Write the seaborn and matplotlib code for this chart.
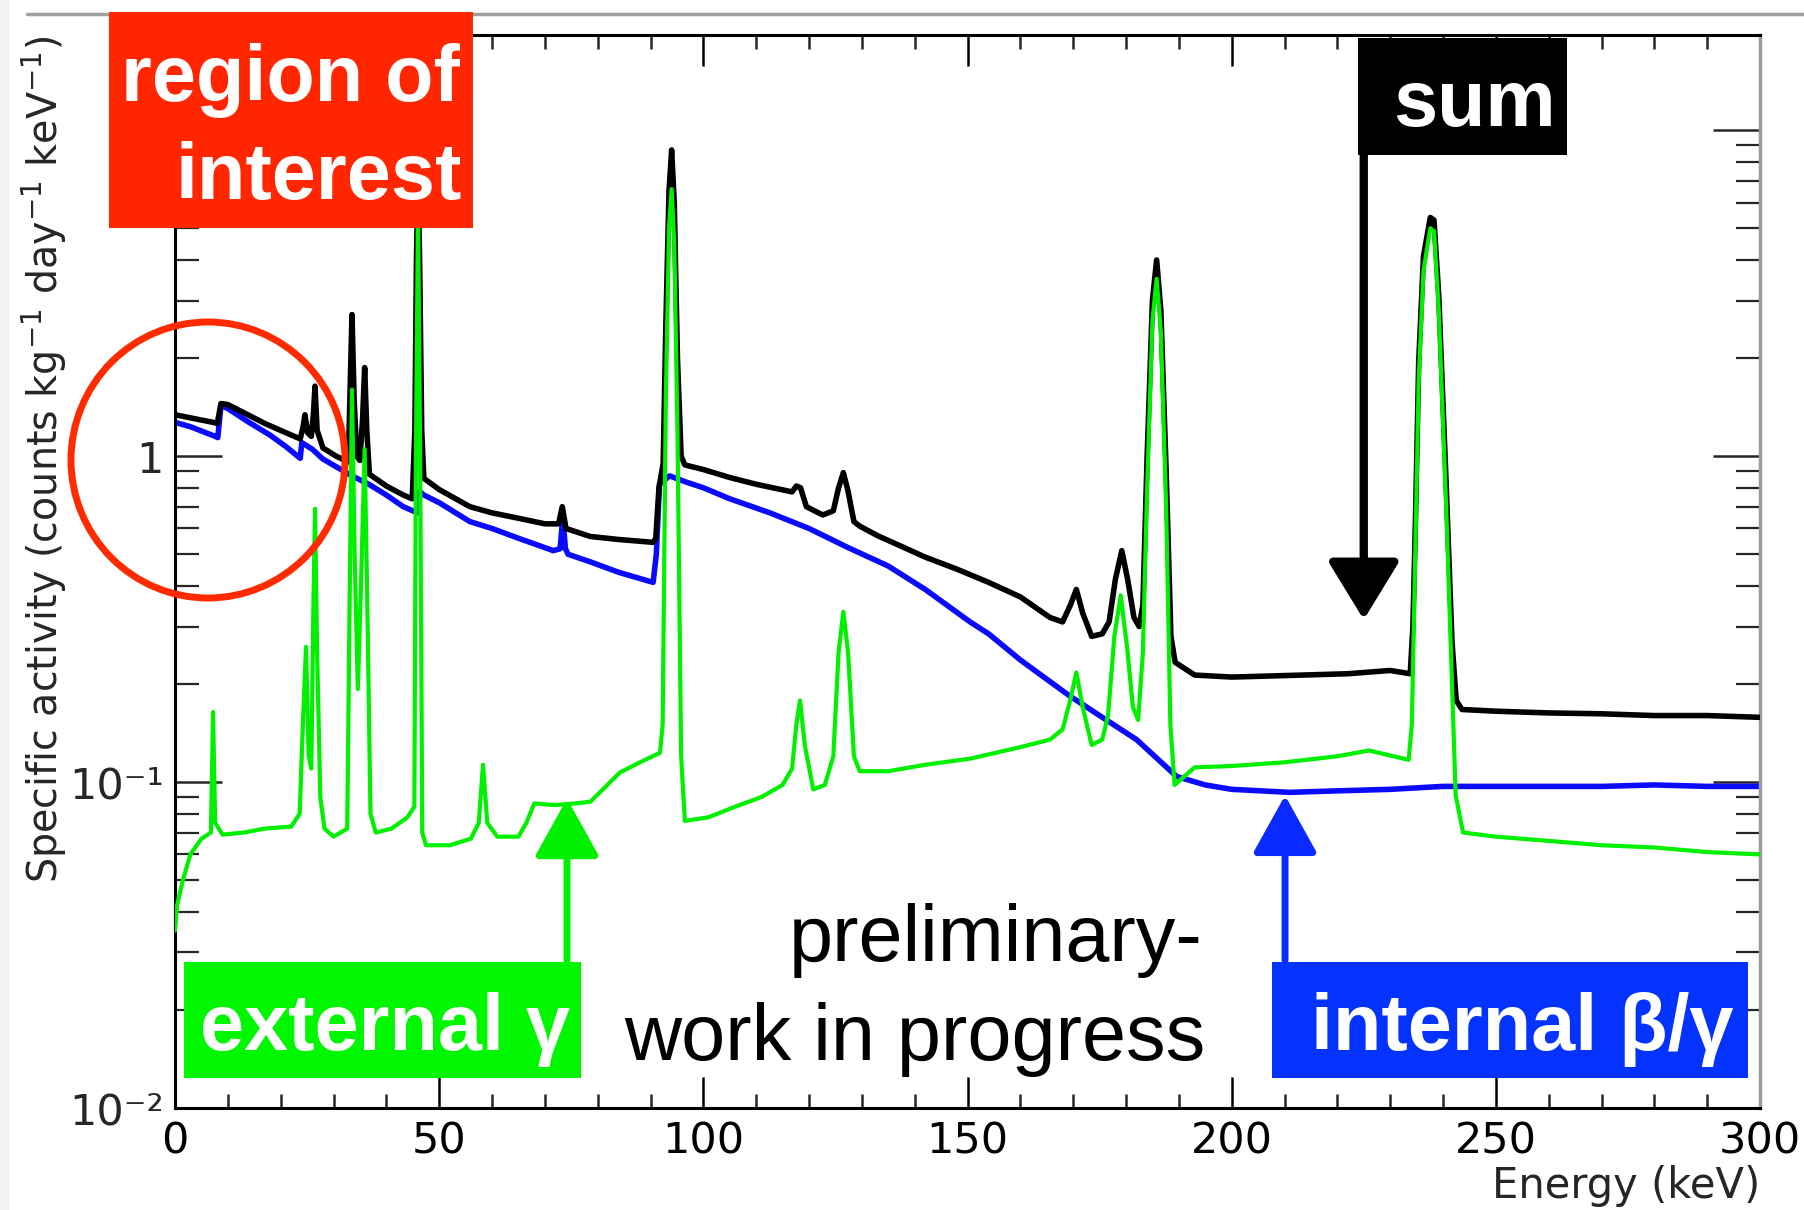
import numpy as np
import pandas as pd
import matplotlib
matplotlib.use("Agg")
import matplotlib.pyplot as plt
import matplotlib.ticker as mticker
from matplotlib.patches import Rectangle, Ellipse
from matplotlib.lines import Line2D
import seaborn as sns


# Spectra (energy in keV, specific activity)
sum_energy = [0, 3, 7.2, 8.0, 8.7, 10, 13, 17, 21, 23.7, 24.2, 24.6, 25.1, 25.8, 26.2, 26.5, 26.9, 28,
              30.5, 32.8, 33.1, 33.5, 33.9, 34.4, 35.0, 35.5, 35.9, 36.3, 36.8, 40, 43.2, 44.9, 45.4,
              45.7, 46.0, 46.3, 46.7, 47.1, 50, 55.8, 60, 65, 70, 72.6, 73.3, 74.0, 78.6, 84, 90.5,
              91.0, 91.6, 92.4, 92.9, 93.5, 94.0, 94.5, 95.1, 95.8, 96.5, 100, 105, 110, 116.8, 117.6,
              118.4, 119.5, 122.6, 124.6, 125.6, 126.5, 127.4, 128.5, 129.6, 133, 137.8, 142, 148, 154,
              160, 165.6, 168, 169.5, 170.6, 171.8, 173.5, 175.5, 176.8, 178, 179.2, 180.3, 181.5,
              182.5, 183.2, 184.0, 185.0, 185.8, 186.6, 187.6, 188.5, 189.3, 193, 200, 213.5, 222,
              230, 233.8, 234.3, 234.8, 235.4, 236.3, 237.6, 238.3, 239.2, 240.6, 241.7, 242.5,
              243.6, 250, 260, 270, 280, 290, 300]
sum_activity = [1.34, 1.31, 1.27, 1.26, 1.45, 1.44, 1.36, 1.26, 1.18, 1.13, 1.22, 1.34, 1.18, 1.15, 1.35,
                1.64, 1.20, 1.06, 1.0, 0.96, 1.5, 2.72, 1.5, 1.0, 0.97, 1.3, 1.87, 1.2, 0.88, 0.81,
                0.76, 0.74, 1.2, 4.0, 7.0, 4.0, 1.2, 0.855, 0.79, 0.70, 0.67, 0.645, 0.62, 0.62, 0.70,
                0.60, 0.567, 0.555, 0.544, 0.56, 0.80, 0.95, 2.5, 6.5, 8.7, 6.0, 2.0, 1.0, 0.94, 0.91,
                0.86, 0.82, 0.777, 0.81, 0.80, 0.70, 0.66, 0.68, 0.8, 0.89, 0.78, 0.63, 0.61, 0.57,
                0.526, 0.49, 0.45, 0.41, 0.37, 0.32, 0.31, 0.35, 0.39, 0.33, 0.28, 0.285, 0.31, 0.42,
                0.513, 0.42, 0.32, 0.30, 0.35, 1.0, 3.0, 4.0, 2.8, 0.9, 0.28, 0.233, 0.213, 0.21,
                0.213, 0.215, 0.22, 0.215, 0.3, 0.65, 1.95, 4.1, 5.4, 5.3, 3.1, 0.82, 0.27, 0.178,
                0.167, 0.165, 0.163, 0.162, 0.16, 0.16, 0.158]

internal_energy = [0, 3, 7.6, 8.1, 8.7, 10, 14, 18, 21, 23.7, 24.0, 26, 28, 30.7, 33.5, 36.7, 40, 43.2,
                   45.9, 46.3, 47.1, 50, 55.8, 60, 65, 71.6, 72.9, 73.4, 73.9, 74.4, 78.6, 84, 90.5,
                   91.1, 91.7, 93.6, 97, 100, 105, 112.6, 120, 127.2, 135, 142, 150.5, 154, 160,
                   169.3, 175, 182, 189.6, 195, 200, 211, 220, 230, 240, 250, 260, 270, 280, 290, 300]
internal_activity = [1.27, 1.23, 1.15, 1.14, 1.43, 1.40, 1.27, 1.16, 1.07, 0.985, 1.10, 1.05, 0.98,
                     0.924, 0.87, 0.82, 0.76, 0.70, 0.67, 0.78, 0.76, 0.72, 0.63, 0.60, 0.56, 0.513,
                     0.52, 0.65, 0.52, 0.50, 0.474, 0.44, 0.41, 0.50, 0.82, 0.87, 0.83, 0.80, 0.74,
                     0.67, 0.60, 0.526, 0.46, 0.39, 0.31, 0.285, 0.237, 0.184, 0.16, 0.135, 0.104,
                     0.098, 0.095, 0.093, 0.094, 0.095, 0.097, 0.097, 0.097, 0.097, 0.098, 0.097, 0.097]

external_energy = [0, 0.4, 1.5, 2.9, 5, 6.8, 7.2, 7.6, 9, 13, 17, 22, 23.6, 24.2, 24.8, 25.3, 25.8,
                   26.2, 26.5, 26.9, 27.5, 28.3, 30, 32.6, 33.0, 33.5, 34.0, 34.6, 35.2, 35.9, 36.4,
                   37, 38, 41, 44, 45.3, 45.6, 46.0, 46.4, 46.8, 47.5, 52, 56, 57.5, 58.3, 59.1, 61,
                   65, 66.5, 68, 72, 75.7, 78.6, 81, 84.2, 88, 91.8, 92.3, 92.9, 93.5, 94.0, 94.5,
                   95.1, 95.8, 96.5, 101, 106, 111, 115, 116.8, 117.6, 118.3, 119.2, 120.8, 123,
                   124.6, 125.6, 126.5, 127.4, 128.5, 129.6, 135, 142, 150.5, 160, 165.6, 168, 169.5,
                   170.6, 171.8, 173.5, 175.5, 176.6, 177.8, 179.0, 180.2, 181.3, 182.3, 183.2, 184.0,
                   185.0, 185.8, 186.6, 187.6, 188.4, 189.2, 193, 200, 210, 220, 226, 233.5, 234.1,
                   234.8, 235.4, 236.3, 237.6, 238.3, 239.2, 240.6, 241.7, 242.4, 243.8, 250, 260,
                   270, 280, 290, 300]
external_activity = [0.035, 0.042, 0.050, 0.060, 0.067, 0.070, 0.164, 0.075, 0.069, 0.070, 0.072,
                     0.073, 0.080, 0.15, 0.26, 0.12, 0.11, 0.35, 0.69, 0.25, 0.09, 0.072, 0.068,
                     0.072, 0.3, 1.6, 0.5, 0.193, 0.4, 1.05, 0.35, 0.080, 0.070, 0.072, 0.078, 0.084,
                     1.0, 6.0, 1.0, 0.07, 0.064, 0.064, 0.067, 0.075, 0.113, 0.075, 0.068, 0.068,
                     0.075, 0.086, 0.085, 0.086, 0.087, 0.095, 0.107, 0.115, 0.123, 0.15, 1.5, 5.0,
                     6.6, 4.5, 1.2, 0.12, 0.076, 0.078, 0.084, 0.09, 0.098, 0.11, 0.15, 0.178, 0.13,
                     0.095, 0.098, 0.12, 0.25, 0.333, 0.25, 0.12, 0.108, 0.108, 0.113, 0.118, 0.128,
                     0.135, 0.145, 0.18, 0.217, 0.17, 0.13, 0.135, 0.16, 0.28, 0.374, 0.26, 0.17,
                     0.155, 0.25, 0.8, 2.6, 3.5, 2.4, 0.7, 0.15, 0.098, 0.111, 0.112, 0.115, 0.12,
                     0.125, 0.117, 0.15, 0.55, 1.7, 3.7, 5.0, 4.9, 2.8, 0.7, 0.2, 0.091, 0.070, 0.068,
                     0.066, 0.064, 0.063, 0.061, 0.060]

y_ticks = [0.01, 0.1, 1, 10]
y_tick_labels = ["10⁻²", "10⁻¹", "1", "10"]

W, H = 1804, 1210


# picture pixels (top-left origin) -> figure fraction
def fx(x):
    return x / W


def fy(y):
    return 1 - y / H


def add_box(x0, y0, x1, y1, color):
    fig.add_artist(Rectangle((fx(x0), fy(y1)), (x1 - x0) / W, (y1 - y0) / H,
                             transform=fig.transFigure, facecolor=color,
                             edgecolor="none", zorder=10))


def box_text(x, y, s, ha, weight="bold", color="white"):
    fig.text(fx(x), fy(y), s, ha=ha, va="baseline", color=color, fontsize=57,
             fontweight=weight, family=["Liberation Sans", "DejaVu Sans"], zorder=11)


sns.set_theme(style="ticks")
plt.rcParams["font.family"] = ["DejaVu Sans"]
plt.rcParams["mathtext.fontset"] = "dejavusans"

fig = plt.figure(figsize=(W / 100, H / 100), dpi=100)
ax = fig.add_axes([fx(175), fy(1108), (1760 - 175) / W, (1108 - 35) / H])

sum_df = pd.DataFrame({"energy": sum_energy, "activity": sum_activity})
internal_df = pd.DataFrame({"energy": internal_energy, "activity": internal_activity})
external_df = pd.DataFrame({"energy": external_energy, "activity": external_activity})

sns.lineplot(data=internal_df, x="energy", y="activity", ax=ax, color="#0a0aff",
             lw=4, sort=False, estimator=None, zorder=2)
sns.lineplot(data=sum_df, x="energy", y="activity", ax=ax, color="black",
             lw=4, sort=False, estimator=None, zorder=3)
sns.lineplot(data=external_df, x="energy", y="activity", ax=ax, color="#00f000",
             lw=3, sort=False, estimator=None, zorder=4)

ax.set_yscale("log")
ax.set_xlim(0, 300)
ax.set_ylim(0.01, 19.6)

# axes, ticks
ax.xaxis.set_major_locator(mticker.MultipleLocator(50))
ax.xaxis.set_minor_locator(mticker.MultipleLocator(10))
ax.yaxis.set_major_locator(mticker.FixedLocator(y_ticks))
ax.yaxis.set_major_formatter(mticker.FixedFormatter(y_tick_labels))
ax.yaxis.set_minor_locator(mticker.LogLocator(base=10, subs=range(2, 10)))
ax.yaxis.set_minor_formatter(mticker.NullFormatter())
ax.tick_params(axis="x", which="major", direction="in", length=22, width=1.8, top=True,
               labelsize=31, pad=9, colors="black")
ax.tick_params(axis="x", which="minor", direction="in", length=10, width=1.8, top=True)
ax.tick_params(axis="y", which="major", direction="in", length=34, width=1.8, right=True,
               labelsize=31, pad=8)
ax.tick_params(axis="y", which="minor", direction="in", length=17, width=1.6, right=True)
for side in ["left", "bottom", "top"]:
    ax.spines[side].set_linewidth(2.2)
    ax.spines[side].set_color("black")
ax.spines["right"].set_linewidth(2.5)
ax.spines["right"].set_color("#9a9a9a")

ax.set_xlabel("Energy (keV)", fontsize=30, loc="right")
ax.xaxis.set_label_coords(1.0, -0.053)
ax.set_ylabel(r"Specific activity (counts kg$^{-1}$ day$^{-1}$ keV$^{-1}$)", fontsize=28.5, loc="top")
ax.yaxis.set_label_coords(-0.067, 1.0)

# slide decorations
fig.add_artist(Line2D([fx(27), 1], [fy(14), fy(14)], transform=fig.transFigure,
                      color="#a0a0a0", lw=2.5))
fig.add_artist(Rectangle((0, 0), 10 / W, 1, transform=fig.transFigure,
                         facecolor="#f2f2f2", edgecolor="none"))

# labelled boxes
add_box(109, 12, 473, 228, "#ff2600")
box_text(460, 101, "region of", "right")
box_text(462, 199, "interest", "right")

add_box(1358, 38, 1567, 155, "black")
box_text(1474, 126, "sum", "center")

add_box(184, 962, 581, 1078, "#00f700")
box_text(200, 1050, "external γ", "left")

add_box(1272, 962, 1748, 1078, "#0433ff")
box_text(1311, 1050, "internal β/γ", "left")

box_text(1203, 961, "preliminary-", "right", weight="normal", color="black")
box_text(1205, 1060, "work in progress", "right", weight="normal", color="black")

# hand drawn marks
fig.add_artist(Ellipse((fx(208), fy(460)), 274 / W, 276 / H, transform=fig.transFigure,
                       fill=False, edgecolor="#ff2a00", lw=5, zorder=9))
ax.annotate("", xy=(225, 0.315), xytext=(225, 8.5), annotation_clip=False,
            arrowprops=dict(arrowstyle="-|>,head_length=3.6,head_width=2.2", color="black",
                            lw=6, shrinkA=0, shrinkB=0, mutation_scale=10), zorder=8)
ax.annotate("", xy=(74.2, 0.089), xytext=(74.2, 0.0284), annotation_clip=False,
            arrowprops=dict(arrowstyle="-|>,head_length=3.6,head_width=2.0", color="#00f000",
                            lw=5, shrinkA=0, shrinkB=0, mutation_scale=10), zorder=8)
ax.annotate("", xy=(210.1, 0.091), xytext=(210.1, 0.0284), annotation_clip=False,
            arrowprops=dict(arrowstyle="-|>,head_length=3.6,head_width=2.0", color="#0a2aff",
                            lw=5, shrinkA=0, shrinkB=0, mutation_scale=10), zorder=8)

fig.savefig("out.png", dpi=100)
